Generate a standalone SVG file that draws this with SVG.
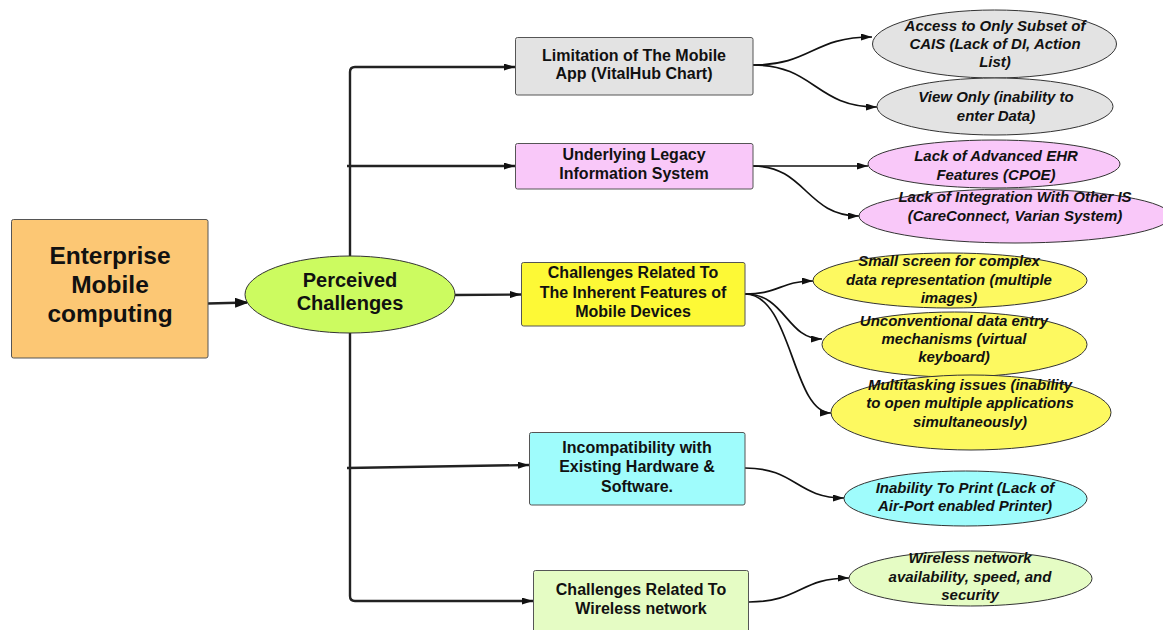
<svg xmlns="http://www.w3.org/2000/svg" width="1163" height="630" viewBox="0 0 1163 630">
<defs>
<style>
.box{stroke:#555;stroke-width:1}
.ell{stroke:#333;stroke-width:1}
.t{font-family:"Liberation Sans",Arial,sans-serif;font-weight:bold;fill:#111;text-anchor:middle}
.bt{font-size:16px}
.it{font-size:15px;font-style:italic}
.main{stroke:#222;stroke-width:2.4;fill:none}
.thin{stroke:#111;stroke-width:1.7;fill:none}
</style>
<marker id="ah" markerUnits="userSpaceOnUse" markerWidth="11" markerHeight="7" viewBox="0 0 11 7" refX="11" refY="3.5" orient="auto">
<path d="M0,0 L11,3.5 L0,7 z" fill="#111"/>
</marker>
<marker id="ahBig" markerUnits="userSpaceOnUse" markerWidth="14" markerHeight="10" viewBox="0 0 14 10" refX="12" refY="5" orient="auto">
<path d="M0,0 L14,5 L0,10 z" fill="#111"/>
</marker>
</defs>
<rect width="1163" height="630" fill="#fff"/>

<g id="connectors">
<path class="main" d="M208,303.5 L247,302.5" stroke-width="4.5" marker-end="url(#ahBig)"/>
<path class="main" d="M350,256 L350,72 Q350,67 355,67 L515,67" marker-end="url(#ah)"/>
<path class="main" d="M347,166 L515,166" marker-end="url(#ah)"/>
<path class="main" d="M455,295 L521,294.5" marker-end="url(#ah)"/>
<path class="main" d="M350,333 L350,596 Q350,601 355,601 L533,601" marker-end="url(#ah)"/>
<path class="main" d="M347,468 L529,465" marker-end="url(#ah)"/>
<path class="thin" d="M753,65 C812,65 812,37 872,37" marker-end="url(#ah)"/>
<path class="thin" d="M753,65 C815,65 815,107 877,107" marker-end="url(#ah)"/>
<path class="thin" d="M753,166 L868,166" marker-end="url(#ah)"/>
<path class="thin" d="M753,166 C806,166 806,216 859,216" marker-end="url(#ah)"/>
<path class="thin" d="M745,294 C780,294 780,281 813,281" marker-end="url(#ah)"/>
<path class="thin" d="M745,294 C786,294 786,339 822,339" marker-end="url(#ah)"/>
<path class="thin" d="M745,294 C792,294 792,413 831,413" marker-end="url(#ah)"/>
<path class="thin" d="M745,468 C796,468 796,498 844,498" marker-end="url(#ah)"/>
<path class="thin" d="M749,602 C800,602 800,578 849,578" marker-end="url(#ah)"/>
</g>

<g id="enterprise">
<rect class="box" x="11.5" y="219.5" width="196.5" height="138.5" rx="2" fill="#fcc774"/>
<text class="t" font-size="24.5" x="110" y="264">Enterprise</text>
<text class="t" font-size="24.5" x="110" y="293">Mobile</text>
<text class="t" font-size="24.5" x="110" y="322">computing</text>
</g>

<g id="perceived">
<ellipse class="ell" cx="350" cy="294.5" rx="105" ry="38.5" fill="#ccfb60"/>
<text class="t" font-size="20" x="350" y="287">Perceived</text>
<text class="t" font-size="20" x="350" y="310">Challenges</text>
</g>

<g id="limitation">
<rect class="box" x="515.5" y="37.5" width="237.5" height="57.5" rx="2" fill="#e3e3e3"/>
<text class="t bt" x="634" y="60.5">Limitation of The Mobile</text>
<text class="t bt" x="634" y="79">App (VitalHub Chart)</text>
</g>

<g id="legacy">
<rect class="box" x="515.5" y="143.5" width="237.5" height="45.5" rx="2" fill="#f9c8f9"/>
<text class="t bt" x="634" y="159.5">Underlying Legacy</text>
<text class="t bt" x="634" y="178.5">Information System</text>
</g>

<g id="inherent">
<rect class="box" x="521.5" y="262.5" width="223.5" height="63.5" rx="2" fill="#fdf936"/>
<text class="t bt" x="633" y="278">Challenges Related To</text>
<text class="t bt" x="633" y="297.5">The Inherent Features of</text>
<text class="t bt" x="633" y="317">Mobile Devices</text>
</g>

<g id="incompat">
<rect class="box" x="529.5" y="432.5" width="215.5" height="72.5" rx="2" fill="#9ffcfc"/>
<text class="t bt" x="637" y="452.5">Incompatibility with</text>
<text class="t bt" x="637" y="472">Existing Hardware &amp;</text>
<text class="t bt" x="637" y="491.5">Software.</text>
</g>

<g id="wireless">
<rect class="box" x="533.5" y="570.5" width="215" height="70" rx="2" fill="#e5fcc4"/>
<text class="t bt" x="641" y="595">Challenges Related To</text>
<text class="t bt" x="641" y="614">Wireless network</text>
</g>

<g id="access">
<ellipse class="ell" cx="994.5" cy="44" rx="122" ry="34" fill="#e3e3e3"/>
<text class="t it" x="995" y="30.5">Access to Only Subset of</text>
<text class="t it" x="995" y="49">CAIS (Lack of DI, Action</text>
<text class="t it" x="995" y="67">List)</text>
</g>

<g id="viewonly">
<ellipse class="ell" cx="995" cy="106.5" rx="118" ry="28.5" fill="#e3e3e3"/>
<text class="t it" x="996" y="102">View Only (inability to</text>
<text class="t it" x="996" y="120.5">enter Data)</text>
</g>

<g id="ehr">
<ellipse class="ell" cx="994" cy="164" rx="126" ry="24" fill="#f9c8f9"/>
<text class="t it" x="996" y="160.5">Lack of Advanced EHR</text>
<text class="t it" x="996" y="179.5">Features (CPOE)</text>
</g>

<g id="integration">
<ellipse class="ell" cx="1015" cy="216" rx="156" ry="27" fill="#f9c8f9"/>
<text class="t it" x="1015" y="202">Lack of Integration With Other IS</text>
<text class="t it" x="1015" y="220.5">(CareConnect, Varian System)</text>
</g>

<g id="smallscreen">
<ellipse class="ell" cx="950" cy="280.5" rx="137" ry="27.5" fill="#fdf960"/>
<text class="t it" x="949" y="266">Small screen for complex</text>
<text class="t it" x="949" y="284.5">data representation (multiple</text>
<text class="t it" x="949" y="303">images)</text>
</g>

<g id="dataentry">
<ellipse class="ell" cx="954.5" cy="344.5" rx="132.5" ry="32.5" fill="#fdf960"/>
<text class="t it" x="954" y="325.5">Unconventional data entry</text>
<text class="t it" x="954" y="344">mechanisms (virtual</text>
<text class="t it" x="954" y="362">keyboard)</text>
</g>

<g id="multitask">
<ellipse class="ell" cx="971" cy="412.5" rx="140" ry="37.5" fill="#fdf960"/>
<text class="t it" x="970" y="389.5">Multitasking issues (inability</text>
<text class="t it" x="970" y="408">to open multiple applications</text>
<text class="t it" x="970" y="426.5">simultaneously)</text>
</g>

<g id="print">
<ellipse class="ell" cx="965.5" cy="498.5" rx="121.5" ry="27.5" fill="#9ffcfc"/>
<text class="t it" x="965" y="493">Inability To Print (Lack of</text>
<text class="t it" x="965" y="510.5">Air-Port enabled Printer)</text>
</g>

<g id="wirelessnet">
<ellipse class="ell" cx="970.5" cy="578.5" rx="121.5" ry="27.5" fill="#e5fcc4"/>
<text class="t it" x="970" y="563">Wireless network</text>
<text class="t it" x="970" y="581.5">availability, speed, and</text>
<text class="t it" x="970" y="600">security</text>
</g>
</svg>
